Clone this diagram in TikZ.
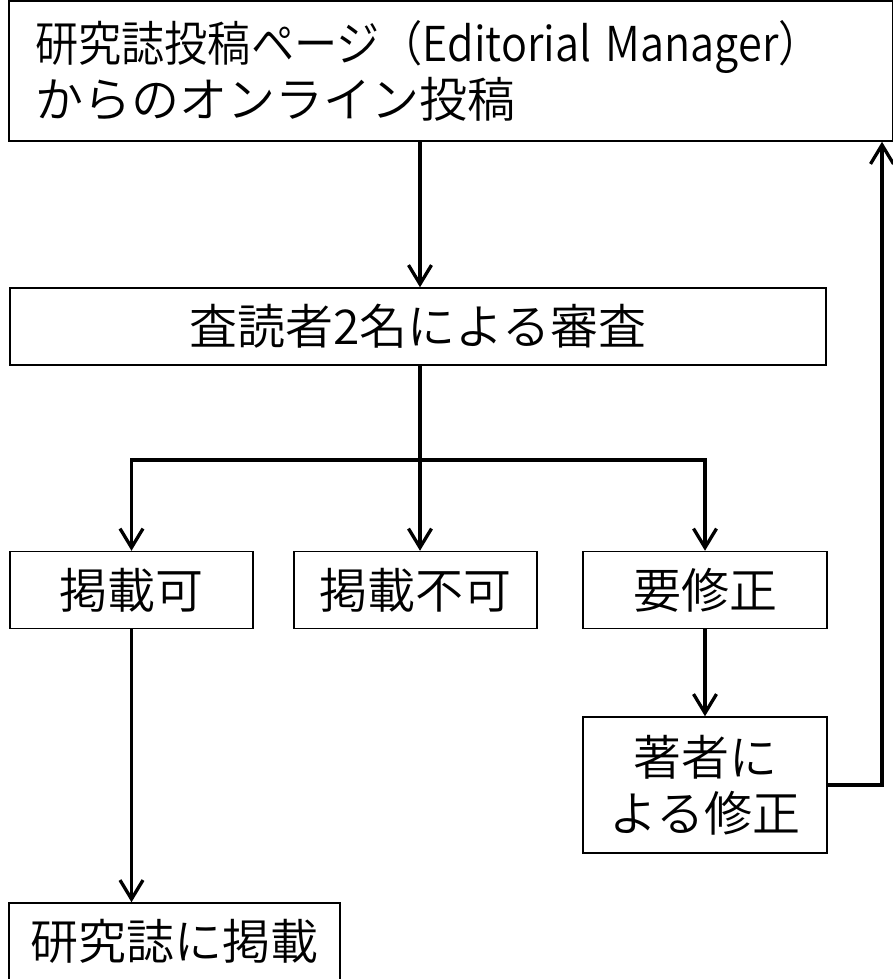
\documentclass[tikz,border=0pt]{standalone}
\usepackage{fontspec}
\setmainfont{Noto Sans CJK JP}[UprightFont=* DemiLight]
\usepackage{tikz}
\usetikzlibrary{arrows.meta}

\begin{document}
\begin{tikzpicture}[x=1pt,y=-1pt,
  >={Straight Barb[length=19pt,width=23pt,line join=miter]},
  box/.style={draw,line width=1.5pt,inner sep=0pt,minimum height=77pt,
    font=\fontsize{48}{56}\selectfont},
  flow/.style={->,line width=3.3pt}]
  \useasboundingbox (0,0) rectangle (892,979);

  \node[box,minimum width=884pt,minimum height=140pt,inner xsep=26pt,
    text width=832pt,align=left] (sub) at (451,71)
    {\scalebox{0.9}[1]{研究誌投稿ページ（Editorial Manager）}\\からのオンライン投稿};
  \node[box,minimum width=816pt] (rev) at (418,326.5){査読者2名による審査};

  \node[box,minimum width=243pt] (acc) at (131.5,590){掲載可};
  \node[box,minimum width=243pt] (rej) at (415.5,590){掲載不可};
  \node[box,minimum width=244pt] (mod) at (705,590){要修正};

  \node[box,minimum width=244pt,minimum height=136pt,align=center] (auth) at (705,785){著者に\\よる修正};
  \node[box,minimum width=331pt] (pub) at (174.5,941.5){研究誌に掲載};

  \coordinate (split) at (420,460);
  \coordinate (back) at (882,0);

  \draw[flow] (sub.south -| split) -- (rev.north -| split);
  \draw[line width=3.3pt] (rev.south -| split) -- (split);
  \draw[flow] (split) -| (acc.north);
  \draw[flow] (split) -- (rej.north -| split);
  \draw[flow] (split) -| (mod.north);

  \draw[flow] (acc.south) -- (acc.south |- pub.north);
  \draw[flow] (mod) -- (auth);
  \draw[flow] (auth.east) -| (back |- sub.south);

\end{tikzpicture}
\end{document}
